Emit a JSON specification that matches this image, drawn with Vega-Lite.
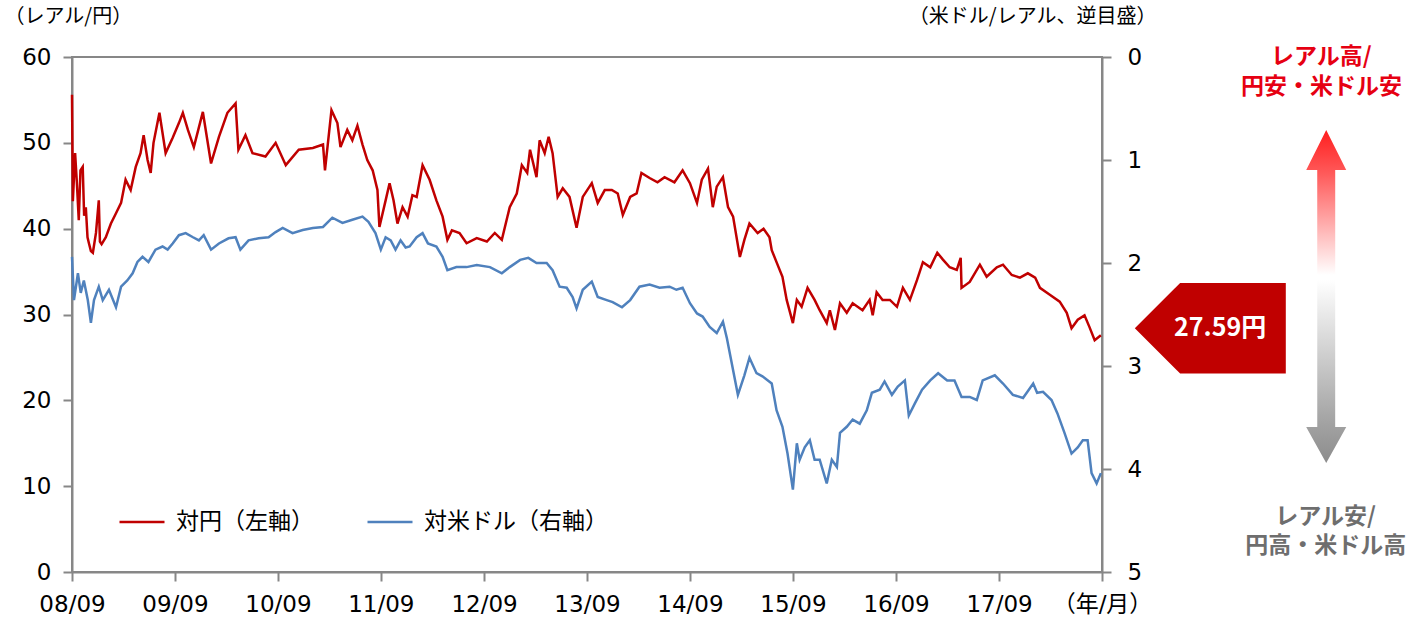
{
  "$schema": "https://vega.github.io/schema/vega-lite/v6.json",
  "width": 1030,
  "height": 515,
  "autosize": {"type": "none"},
  "padding": {"left": 72, "top": 57, "right": 321, "bottom": 51},
  "background": "white",
  "config": {
    "font": "Noto Sans CJK JP",
    "view": {"stroke": "#878787", "strokeWidth": 2},
    "axis": {
      "domainColor": "#878787", "domainWidth": 2,
      "tickColor": "#878787", "tickWidth": 2, "tickSize": 9,
      "labelFont": "DejaVu Sans, Noto Sans CJK JP", "labelFontSize": 23, "labelColor": "#000000",
      "titleFont": "Noto Sans CJK JP", "titleFontSize": 20, "titleFontWeight": "normal", "titleColor": "#000000",
      "grid": false
    }
  },
  "datasets": {
    "yen": [
      {"date":"2008-09-01","value":55.6},{"date":"2008-09-04","value":43.2},{"date":"2008-09-12","value":48.8},{"date":"2008-09-18","value":45.5},{"date":"2008-09-25","value":41.0},{"date":"2008-10-01","value":46.8},{"date":"2008-10-09","value":47.2},{"date":"2008-10-14","value":41.5},{"date":"2008-10-20","value":42.5},{"date":"2008-10-26","value":39.0},{"date":"2008-10-31","value":38.3},{"date":"2008-11-07","value":37.4},{"date":"2008-11-14","value":37.2},{"date":"2008-11-25","value":39.5},{"date":"2008-12-05","value":43.3},{"date":"2008-12-09","value":38.5},{"date":"2008-12-15","value":38.2},{"date":"2008-12-30","value":39.0},
      {"date":"2009-01-17","value":40.6},{"date":"2009-02-04","value":41.8},{"date":"2009-02-22","value":43.0},{"date":"2009-03-10","value":45.7},{"date":"2009-03-28","value":44.5},{"date":"2009-04-15","value":47.2},{"date":"2009-05-02","value":48.8},{"date":"2009-05-13","value":50.9},{"date":"2009-05-27","value":48.0},{"date":"2009-06-07","value":46.5},{"date":"2009-06-17","value":50.0},{"date":"2009-07-08","value":53.5},{"date":"2009-07-30","value":48.8},{"date":"2009-08-24","value":50.6},{"date":"2009-09-15","value":52.3},{"date":"2009-09-29","value":53.5},{"date":"2009-10-17","value":51.5},{"date":"2009-11-07","value":49.5},{"date":"2009-12-09","value":53.6},
      {"date":"2010-01-07","value":47.6},{"date":"2010-02-04","value":50.7},{"date":"2010-03-06","value":53.5},{"date":"2010-04-04","value":54.6},{"date":"2010-04-14","value":49.2},{"date":"2010-05-09","value":50.9},{"date":"2010-06-03","value":48.8},{"date":"2010-07-19","value":48.4},{"date":"2010-08-24","value":50.0},{"date":"2010-09-29","value":47.4},{"date":"2010-11-14","value":49.2},
      {"date":"2011-01-03","value":49.4},{"date":"2011-02-08","value":49.8},{"date":"2011-02-15","value":46.8},{"date":"2011-03-10","value":53.8},{"date":"2011-03-31","value":52.3},{"date":"2011-04-11","value":49.5},{"date":"2011-05-05","value":51.5},{"date":"2011-05-23","value":50.3},{"date":"2011-06-10","value":52.0},{"date":"2011-06-28","value":49.8},{"date":"2011-07-15","value":48.0},{"date":"2011-08-03","value":46.8},{"date":"2011-08-20","value":44.5},{"date":"2011-08-27","value":40.2},{"date":"2011-09-18","value":43.3},{"date":"2011-10-02","value":45.3},{"date":"2011-10-16","value":43.3},{"date":"2011-10-30","value":40.6},{"date":"2011-11-17","value":42.5},{"date":"2011-12-05","value":41.4},{"date":"2011-12-22","value":43.9},
      {"date":"2012-01-06","value":43.7},{"date":"2012-01-27","value":47.4},{"date":"2012-02-21","value":45.7},{"date":"2012-03-16","value":43.3},{"date":"2012-04-07","value":41.4},{"date":"2012-04-24","value":38.7},{"date":"2012-05-10","value":39.8},{"date":"2012-06-06","value":39.5},{"date":"2012-07-01","value":38.3},{"date":"2012-08-06","value":38.9},{"date":"2012-09-11","value":38.5},{"date":"2012-10-09","value":39.5},{"date":"2012-11-03","value":38.7},{"date":"2012-12-01","value":42.5},{"date":"2012-12-26","value":44.1},
      {"date":"2013-01-13","value":47.4},{"date":"2013-02-01","value":46.5},{"date":"2013-02-11","value":49.2},{"date":"2013-03-06","value":46.0},{"date":"2013-03-17","value":50.3},{"date":"2013-04-04","value":48.8},{"date":"2013-04-18","value":50.7},{"date":"2013-05-02","value":48.8},{"date":"2013-05-20","value":43.7},{"date":"2013-06-07","value":44.7},{"date":"2013-07-01","value":43.7},{"date":"2013-07-26","value":40.1},{"date":"2013-08-17","value":43.7},{"date":"2013-09-18","value":45.3},{"date":"2013-10-09","value":43.0},{"date":"2013-11-03","value":44.5},{"date":"2013-11-28","value":44.5},{"date":"2013-12-19","value":44.1},
      {"date":"2014-01-06","value":41.6},{"date":"2014-02-01","value":43.7},{"date":"2014-02-24","value":44.1},{"date":"2014-03-13","value":46.5},{"date":"2014-04-11","value":45.9},{"date":"2014-05-09","value":45.4},{"date":"2014-06-03","value":46.0},{"date":"2014-07-08","value":45.4},{"date":"2014-08-06","value":46.8},{"date":"2014-09-01","value":45.3},{"date":"2014-09-26","value":43.0},{"date":"2014-10-13","value":45.7},{"date":"2014-11-04","value":47.0},{"date":"2014-11-21","value":42.5},{"date":"2014-12-05","value":44.9},{"date":"2014-12-27","value":46.0},
      {"date":"2015-01-14","value":42.5},{"date":"2015-02-01","value":41.4},{"date":"2015-02-25","value":36.7},{"date":"2015-03-13","value":38.7},{"date":"2015-03-31","value":40.6},{"date":"2015-04-29","value":39.5},{"date":"2015-05-20","value":40.0},{"date":"2015-06-10","value":39.0},{"date":"2015-06-18","value":37.5},{"date":"2015-07-05","value":36.1},{"date":"2015-07-26","value":34.4},{"date":"2015-08-10","value":31.7},{"date":"2015-09-01","value":29.0},{"date":"2015-09-15","value":31.7},{"date":"2015-10-02","value":30.9},{"date":"2015-10-23","value":33.1},{"date":"2015-11-17","value":31.7},{"date":"2015-12-05","value":30.5},{"date":"2015-12-30","value":29.0},
      {"date":"2016-01-10","value":30.5},{"date":"2016-01-28","value":28.2},{"date":"2016-02-15","value":31.3},{"date":"2016-03-10","value":30.2},{"date":"2016-03-31","value":31.3},{"date":"2016-05-05","value":30.5},{"date":"2016-05-30","value":31.7},{"date":"2016-06-10","value":29.9},{"date":"2016-06-24","value":32.6},{"date":"2016-07-15","value":31.7},{"date":"2016-08-10","value":31.7},{"date":"2016-09-04","value":30.9},{"date":"2016-09-25","value":33.1},{"date":"2016-10-20","value":31.7},{"date":"2016-11-14","value":34.0},{"date":"2016-12-05","value":36.1},{"date":"2016-12-31","value":35.5},
      {"date":"2017-01-25","value":37.2},{"date":"2017-02-14","value":36.4},{"date":"2017-03-10","value":35.5},{"date":"2017-04-04","value":35.2},{"date":"2017-04-18","value":36.6},{"date":"2017-04-21","value":33.1},{"date":"2017-05-20","value":33.8},{"date":"2017-06-25","value":35.8},{"date":"2017-07-19","value":34.4},{"date":"2017-08-24","value":35.5},{"date":"2017-09-15","value":35.8},{"date":"2017-10-16","value":34.6},{"date":"2017-11-14","value":34.3},{"date":"2017-12-12","value":34.8},
      {"date":"2018-01-07","value":34.3},{"date":"2018-01-24","value":33.1},{"date":"2018-02-28","value":32.3},{"date":"2018-04-04","value":31.5},{"date":"2018-04-29","value":30.2},{"date":"2018-05-16","value":28.4},{"date":"2018-06-07","value":29.4},{"date":"2018-07-01","value":29.9},{"date":"2018-07-19","value":28.5},{"date":"2018-08-06","value":27.0},{"date":"2018-08-28","value":27.59}
    ],
    "usd": [
      {"date":"2008-09-01","value":1.94},{"date":"2008-09-08","value":2.36},{"date":"2008-09-22","value":2.10},{"date":"2008-10-02","value":2.29},{"date":"2008-10-13","value":2.17},{"date":"2008-10-27","value":2.36},{"date":"2008-11-07","value":2.58},{"date":"2008-11-18","value":2.36},{"date":"2008-12-05","value":2.23},{"date":"2008-12-19","value":2.36},
      {"date":"2009-01-10","value":2.26},{"date":"2009-02-04","value":2.43},{"date":"2009-02-22","value":2.23},{"date":"2009-03-16","value":2.17},{"date":"2009-04-04","value":2.10},{"date":"2009-04-21","value":1.99},{"date":"2009-05-09","value":1.94},{"date":"2009-05-30","value":1.99},{"date":"2009-06-24","value":1.87},{"date":"2009-07-19","value":1.84},{"date":"2009-08-06","value":1.87},{"date":"2009-08-24","value":1.81},{"date":"2009-09-15","value":1.73},{"date":"2009-10-09","value":1.71},{"date":"2009-11-04","value":1.75},{"date":"2009-11-25","value":1.78},{"date":"2009-12-12","value":1.73},
      {"date":"2010-01-07","value":1.87},{"date":"2010-02-04","value":1.81},{"date":"2010-03-10","value":1.76},{"date":"2010-04-04","value":1.75},{"date":"2010-04-21","value":1.87},{"date":"2010-05-20","value":1.78},{"date":"2010-06-25","value":1.76},{"date":"2010-07-30","value":1.75},{"date":"2010-08-24","value":1.70},{"date":"2010-09-18","value":1.66},{"date":"2010-10-23","value":1.71},{"date":"2010-11-28","value":1.68},
      {"date":"2011-01-03","value":1.66},{"date":"2011-02-08","value":1.65},{"date":"2011-03-13","value":1.56},{"date":"2011-04-18","value":1.61},{"date":"2011-05-23","value":1.58},{"date":"2011-06-28","value":1.55},{"date":"2011-07-19","value":1.60},{"date":"2011-08-13","value":1.71},{"date":"2011-09-01","value":1.87},{"date":"2011-09-18","value":1.75},{"date":"2011-10-06","value":1.78},{"date":"2011-10-23","value":1.87},{"date":"2011-11-10","value":1.78},{"date":"2011-11-28","value":1.85},{"date":"2011-12-12","value":1.84},
      {"date":"2012-01-06","value":1.75},{"date":"2012-01-27","value":1.71},{"date":"2012-02-15","value":1.81},{"date":"2012-03-16","value":1.84},{"date":"2012-04-07","value":1.94},{"date":"2012-04-24","value":2.07},{"date":"2012-05-26","value":2.04},{"date":"2012-07-01","value":2.04},{"date":"2012-08-06","value":2.02},{"date":"2012-09-22","value":2.04},{"date":"2012-11-03","value":2.10},{"date":"2012-12-01","value":2.04},
      {"date":"2013-01-07","value":1.97},{"date":"2013-02-05","value":1.95},{"date":"2013-03-06","value":2.00},{"date":"2013-04-11","value":2.00},{"date":"2013-05-02","value":2.07},{"date":"2013-05-27","value":2.23},{"date":"2013-06-21","value":2.24},{"date":"2013-07-12","value":2.33},{"date":"2013-07-26","value":2.44},{"date":"2013-08-17","value":2.26},{"date":"2013-09-18","value":2.18},{"date":"2013-10-09","value":2.33},{"date":"2013-11-10","value":2.36},{"date":"2013-12-01","value":2.38},
      {"date":"2014-01-03","value":2.43},{"date":"2014-02-01","value":2.36},{"date":"2014-03-06","value":2.23},{"date":"2014-04-11","value":2.21},{"date":"2014-05-16","value":2.24},{"date":"2014-06-21","value":2.23},{"date":"2014-07-15","value":2.26},{"date":"2014-08-06","value":2.24},{"date":"2014-09-01","value":2.39},{"date":"2014-09-26","value":2.49},{"date":"2014-10-16","value":2.52},{"date":"2014-11-10","value":2.62},{"date":"2014-12-05","value":2.68},{"date":"2014-12-27","value":2.57},
      {"date":"2015-01-10","value":2.73},{"date":"2015-02-18","value":3.28},{"date":"2015-03-13","value":3.09},{"date":"2015-03-31","value":2.92},{"date":"2015-04-25","value":3.07},{"date":"2015-05-16","value":3.10},{"date":"2015-06-18","value":3.17},{"date":"2015-07-05","value":3.43},{"date":"2015-07-26","value":3.59},{"date":"2015-08-13","value":3.85},{"date":"2015-09-01","value":4.20},{"date":"2015-09-15","value":3.75},{"date":"2015-09-25","value":3.91},{"date":"2015-10-13","value":3.79},{"date":"2015-10-31","value":3.72},{"date":"2015-11-17","value":3.91},{"date":"2015-12-05","value":3.91},{"date":"2015-12-30","value":4.14},
      {"date":"2016-01-17","value":3.91},{"date":"2016-02-04","value":3.98},{"date":"2016-02-15","value":3.65},{"date":"2016-03-10","value":3.59},{"date":"2016-03-31","value":3.52},{"date":"2016-04-25","value":3.56},{"date":"2016-05-20","value":3.43},{"date":"2016-06-07","value":3.26},{"date":"2016-07-05","value":3.23},{"date":"2016-07-22","value":3.15},{"date":"2016-08-17","value":3.28},{"date":"2016-09-07","value":3.20},{"date":"2016-10-02","value":3.14},{"date":"2016-10-16","value":3.48},{"date":"2016-11-07","value":3.36},{"date":"2016-12-02","value":3.23},{"date":"2016-12-31","value":3.14},
      {"date":"2017-01-28","value":3.07},{"date":"2017-03-01","value":3.14},{"date":"2017-03-27","value":3.14},{"date":"2017-04-21","value":3.30},{"date":"2017-05-20","value":3.30},{"date":"2017-06-14","value":3.33},{"date":"2017-07-05","value":3.14},{"date":"2017-08-17","value":3.09},{"date":"2017-09-15","value":3.17},{"date":"2017-10-20","value":3.28},{"date":"2017-11-25","value":3.31},{"date":"2017-12-31","value":3.17},
      {"date":"2018-01-14","value":3.26},{"date":"2018-02-04","value":3.25},{"date":"2018-03-06","value":3.33},{"date":"2018-03-27","value":3.46},{"date":"2018-04-21","value":3.65},{"date":"2018-05-16","value":3.85},{"date":"2018-06-07","value":3.79},{"date":"2018-06-25","value":3.72},{"date":"2018-07-12","value":3.72},{"date":"2018-07-26","value":4.04},{"date":"2018-08-13","value":4.14},{"date":"2018-08-28","value":4.04}
    ]
  },
  "layer": [
    {
      "layer": [
        {
          "data": {"name": "yen"},
          "mark": {"type": "line", "strokeWidth": 2.5},
          "encoding": {
            "x": {
              "field": "date", "type": "temporal",
              "scale": {"type": "utc", "domain": [{"year": 2008, "month": 9, "date": 1, "utc": true}, {"year": 2018, "month": 9, "date": 1, "utc": true}]},
              "axis": {
                "title": null,
                "values": [
                  {"year": 2008, "month": 9, "date": 1, "utc": true},{"year": 2009, "month": 9, "date": 1, "utc": true},{"year": 2010, "month": 9, "date": 1, "utc": true},{"year": 2011, "month": 9, "date": 1, "utc": true},{"year": 2012, "month": 9, "date": 1, "utc": true},{"year": 2013, "month": 9, "date": 1, "utc": true},{"year": 2014, "month": 9, "date": 1, "utc": true},{"year": 2015, "month": 9, "date": 1, "utc": true},{"year": 2016, "month": 9, "date": 1, "utc": true},{"year": 2017, "month": 9, "date": 1, "utc": true},{"year": 2018, "month": 9, "date": 1, "utc": true}
                ],
                "labelExpr": "utcyear(datum.value) == 2018 ? '（年/月）' : utcFormat(datum.value, '%y/%m')",
                "labelPadding": 12,
                "labelFlush": false,
                "labelOverlap": false
              }
            },
            "y": {
              "field": "value", "type": "quantitative",
              "scale": {"domain": [0, 60]},
              "axis": {
                "values": [0, 10, 20, 30, 40, 50, 60],
                "labelPadding": 12,
                "title": "（レアル/円）",
                "titleAngle": 0, "titleAlign": "left", "titleBaseline": "middle",
                "titleX": -68, "titleY": -41
              }
            },
            "color": {
              "datum": "対円（左軸）", "type": "nominal",
              "scale": {"domain": ["対円（左軸）", "対米ドル（右軸）"], "range": ["#c00000", "#4f81bd"]},
              "legend": {
                "orient": "none", "legendX": 46, "legendY": 441,
                "direction": "horizontal", "title": null,
                "symbolType": "stroke", "symbolSize": 2025, "symbolStrokeWidth": 2.5,
                "labelFont": "Noto Sans CJK JP", "labelFontSize": 23, "labelColor": "#000000",
                "labelOffset": 10, "columnPadding": 48, "labelLimit": 400
              }
            }
          }
        },
        {
          "data": {"values": [{}]},
          "mark": {"type": "point", "shape": "M -1 0 L -0.4 -0.6 L 1 -0.6 L 1 0.6 L -0.4 0.6 Z", "size": 22801, "filled": true, "fill": "#c00000", "opacity": 1, "strokeWidth": 0},
          "encoding": {
            "x": {"datum": {"year": 2019, "month": 9, "date": 20, "utc": true}, "type": "temporal"},
            "y": {"datum": 28.4, "type": "quantitative"}
          }
        },
        {
          "data": {"values": [{}]},
          "mark": {"type": "text", "text": "27.59円", "font": "Noto Sans CJK JP", "fontSize": 25, "fontWeight": "bold", "color": "#ffffff", "align": "center", "baseline": "middle"},
          "encoding": {
            "x": {"datum": {"year": 2019, "month": 10, "date": 25, "utc": true}, "type": "temporal"},
            "y": {"datum": 28.4, "type": "quantitative"}
          }
        },
        {
          "data": {"values": [{}]},
          "mark": {
            "type": "point",
            "shape": "M 0 -1 L 0.276 -0.448 L 0.124 -0.448 L 0.124 1 L -0.124 1 L -0.124 -0.448 L -0.276 -0.448 Z",
            "size": 21025, "filled": true, "opacity": 1, "strokeWidth": 0,
            "fill": {"gradient": "linear", "x1": 0, "y1": 0, "x2": 0, "y2": 1, "stops": [{"offset": 0, "color": "#ff1e1e"}, {"offset": 0.3, "color": "#ff5a5a"}, {"offset": 1, "color": "#ffffff"}]}
          },
          "encoding": {
            "x": {"datum": {"year": 2020, "month": 11, "date": 4, "utc": true}, "type": "temporal"},
            "y": {"datum": 43.05, "type": "quantitative"}
          }
        },
        {
          "data": {"values": [{}]},
          "mark": {
            "type": "point",
            "shape": "M 0 1 L 0.219 0.607 L 0.098 0.607 L 0.098 -1 L -0.098 -1 L -0.098 0.607 L -0.219 0.607 Z",
            "size": 33489, "filled": true, "opacity": 1, "strokeWidth": 0,
            "fill": {"gradient": "linear", "x1": 0, "y1": 0, "x2": 0, "y2": 1, "stops": [{"offset": 0, "color": "#ffffff"}, {"offset": 0.75, "color": "#a6a6a6"}, {"offset": 1, "color": "#8c8c8c"}]}
          },
          "encoding": {
            "x": {"datum": {"year": 2020, "month": 11, "date": 4, "utc": true}, "type": "temporal"},
            "y": {"datum": 23.36, "type": "quantitative"}
          }
        },
        {
          "data": {"values": [{}]},
          "mark": {"type": "text", "text": ["レアル高/", "円安・米ドル安"], "lineHeight": 30, "font": "Noto Sans CJK JP", "fontSize": 23, "fontWeight": "bold", "color": "#e60012", "align": "center", "baseline": "middle"},
          "encoding": {
            "x": {"datum": {"year": 2020, "month": 10, "date": 18, "utc": true}, "type": "temporal"},
            "y": {"datum": 60.0, "type": "quantitative"}
          }
        },
        {
          "data": {"values": [{}]},
          "mark": {"type": "text", "text": ["レアル安/", "円高・米ドル高"], "lineHeight": 29, "font": "Noto Sans CJK JP", "fontSize": 23, "fontWeight": "bold", "color": "#6e6e6e", "align": "center", "baseline": "middle"},
          "encoding": {
            "x": {"datum": {"year": 2020, "month": 11, "date": 2, "utc": true}, "type": "temporal"},
            "y": {"datum": 6.41, "type": "quantitative"}
          }
        }
      ]
    },
    {
      "data": {"name": "usd"},
      "mark": {"type": "line", "strokeWidth": 2.5},
      "encoding": {
        "x": {"field": "date", "type": "temporal"},
        "y": {
          "field": "value", "type": "quantitative",
          "scale": {"domain": [0, 5], "reverse": true},
          "axis": {
            "orient": "right",
            "values": [0, 1, 2, 3, 4, 5],
            "labelPadding": 16,
            "title": "（米ドル/レアル、逆目盛）",
            "titleAngle": 0, "titleAlign": "right", "titleBaseline": "middle",
            "titleX": 54, "titleY": -41
          }
        },
        "color": {"datum": "対米ドル（右軸）", "type": "nominal"}
      }
    }
  ],
  "resolve": {"scale": {"y": "independent"}}
}
